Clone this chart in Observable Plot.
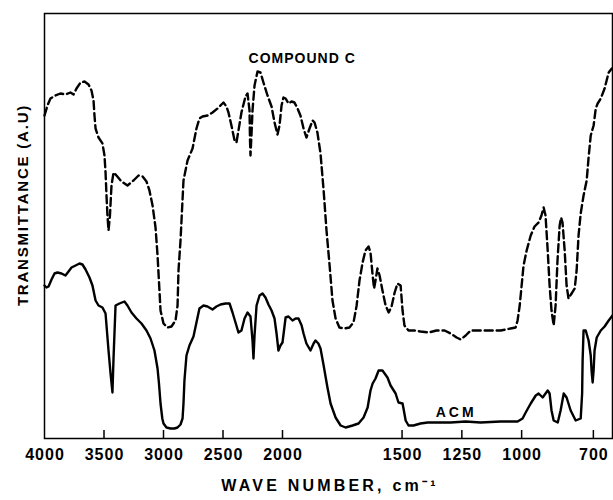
<!DOCTYPE html>
<html><head><meta charset="utf-8">
<script src="https://cdn.jsdelivr.net/npm/d3@7"></script>
<script src="https://cdn.jsdelivr.net/npm/@observablehq/plot@0.6"></script>
<style>
body{margin:0;background:#fff}
</style>
</head><body><div id="chart"></div>
<script>
// Compound C (dashed) — wavenumber (cm-1) and transmittance (a.u.)
const cWave = [4000,3975,3950,3908,3866,3824,3782,3756,3731,3697,3664,3630,3605,3588,3580,3571,3546,3513,3496,3487,3479,3471,3462,3450,3437,3420,3395,3353,3303,3252,3210,3176,3143,3118,3092,3067,3050,3034,3025,3000,2966,2933,2899,2882,2874,2857,2832,2798,2756,2723,2698,2672,2630,2588,2546,2513,2496,2471,2454,2429,2403,2387,2370,2345,2311,2294,2277,2273,2269,2261,2252,2235,2210,2185,2160,2126,2092,2067,2042,2025,2008,1996,1987,1975,1962,1950,1937,1925,1912,1900,1887,1874,1866,1854,1841,1828,1816,1803,1791,1778,1762,1741,1720,1703,1690,1678,1665,1653,1640,1632,1623,1617,1611,1603,1594,1582,1569,1556,1544,1531,1519,1506,1498,1490,1473,1448,1423,1389,1356,1322,1297,1272,1255,1234,1213,1180,1138,1088,1046,1025,1017,1008,1000,992,979,962,946,929,917,908,900,891,883,875,866,858,850,841,835,829,820,812,804,791,778,770,762,753,741,728,720,711,699,690,682,669,653,636,623];
const cT = [323,333,340,343,345,344,346,344,350,356,357,354,348,338,323,310,301,295,283,266,243,223,208,223,253,266,263,257,253,258,263,262,257,248,233,211,183,148,128,115,111,112,118,133,168,198,258,278,290,310,320,322,323,326,330,334,336,332,326,313,298,296,308,326,342,345,328,298,283,303,328,353,367,366,356,343,332,316,304,313,333,341,340,335,337,336,330,323,310,301,310,318,316,306,285,248,208,173,138,120,111,110,111,116,133,158,176,188,192,186,163,150,158,170,163,148,133,126,132,146,155,153,128,113,108,108,107,106,108,108,105,101,99,103,108,108,108,108,110,111,118,133,153,173,188,203,212,216,223,231,223,188,153,128,113,133,178,213,221,216,188,153,140,145,150,168,203,225,243,258,281,303,313,330,335,340,350,366,370];

// ACM (solid)
const aWave = [4000,3983,3966,3941,3916,3891,3857,3824,3798,3773,3739,3706,3681,3655,3622,3597,3571,3546,3513,3487,3462,3445,3429,3420,3403,3370,3328,3303,3269,3227,3185,3143,3109,3076,3050,3038,3025,3010,3000,2975,2941,2908,2882,2857,2840,2832,2824,2807,2782,2748,2723,2698,2664,2630,2588,2555,2521,2479,2445,2420,2395,2370,2345,2319,2294,2269,2252,2244,2235,2218,2193,2168,2143,2118,2092,2067,2050,2034,2017,2000,1987,1975,1958,1945,1933,1920,1912,1900,1883,1870,1862,1850,1841,1828,1812,1799,1778,1757,1736,1707,1682,1661,1644,1632,1623,1611,1598,1582,1561,1548,1527,1515,1498,1494,1485,1473,1452,1423,1393,1351,1297,1234,1172,1088,1017,996,983,962,941,929,912,891,883,875,866,849,837,824,812,795,774,753,747,745,741,732,720,711,707,703,699,695,686,669,653,636,620];
const aT = [153,151,152,159,165,166,165,163,167,171,173,175,174,169,161,153,138,133,131,125,88,65,46,80,133,135,137,133,126,120,115,108,100,88,70,55,35,20,15,11,10,10,11,14,20,35,58,83,93,102,116,130,133,132,129,132,134,135,135,126,116,106,108,120,126,122,98,80,103,133,143,145,141,134,128,120,105,88,93,96,121,122,118,120,120,113,105,95,88,95,98,95,90,73,51,35,21,13,11,13,15,21,31,48,55,60,68,68,61,53,45,36,35,30,18,13,13,15,16,16,16,17,16,17,17,20,26,35,43,45,41,48,45,28,18,16,28,45,41,28,18,20,45,78,108,108,98,83,66,56,68,88,101,108,112,118,123];

// Axis ticks and labels
const xTicks = [4000,3500,3000,2500,2000,1500,1250,1000,700];
const seriesLabels = ["COMPOUND C","ACM"];
const labelWave = [1920,1276];
const labelT = [380,26];
const yTitle = "TRANSMITTANCE (A.U)";
const xTitle = "WAVE NUMBER, cm⁻¹";

const compound = cWave.map((w,i)=>({w, t:cT[i]}));
const acm = aWave.map((w,i)=>({w, t:aT[i]}));
const labels = seriesLabels.map((s,i)=>({s, w:labelWave[i], t:labelT[i]}));

const font = "'Liberation Sans', Arial, sans-serif";
const chart = Plot.plot({
  width: 613, height: 500,
  marginLeft: 44, marginRight: 1, marginTop: 13, marginBottom: 62,
  style: {fontFamily: font, background: "#fff", color: "#000"},
  x: {type: "linear", domain: [4000, 2000, 620], range: [44, 282, 612], axis: null},
  y: {type: "linear", domain: [0, 425], range: [438, 13], axis: null},
  marks: [
    Plot.frame({stroke: "#000", strokeWidth: 1.5}),
    Plot.ruleX(xTicks.slice(1), {y1: 0, y2: 8, stroke: "#000", strokeWidth: 1.5}),
    Plot.axisX(xTicks, {tickSize: 0, tickPadding: 10, fontSize: 16, fontWeight: "bold", label: null, tickFormat: d => String(d), dx: 0.5}),
    Plot.line(compound, {x: "w", y: "t", stroke: "#000", strokeWidth: 2.4, strokeDasharray: "8,4"}),
    Plot.line(acm, {x: "w", y: "t", stroke: "#000", strokeWidth: 2.4}),
    Plot.text(labels, {x: "w", y: "t", text: "s", fontSize: 14, fontWeight: "bold", fill: "#000", dx: 0.5}),
    Plot.text([yTitle], {frameAnchor: "left", rotate: -90, dx: -21, dy: -21, textAnchor: "middle", lineAnchor: "middle", fontSize: 15, fontWeight: "bold", fill: "#000"}),
    Plot.text([xTitle], {frameAnchor: "bottom", dy: 52, dx: 1.5, textAnchor: "middle", fontSize: 16, fontWeight: "bold", fill: "#000"})
  ]
});
// letter spacing as in the original stencil-style lettering
const spacing = new Map([[yTitle, "1.8px"], [xTitle, "3.2px"], ["COMPOUND C", "1px"], ["ACM", "3px"]]);
d3.select(chart).selectAll("text").each(function() {
  const t = this.textContent;
  if (spacing.has(t)) this.style.letterSpacing = spacing.get(t);
  else if (/^\d+$/.test(t)) this.style.letterSpacing = "1px";
});
document.getElementById("chart").appendChild(chart);
</script>
</body></html>
